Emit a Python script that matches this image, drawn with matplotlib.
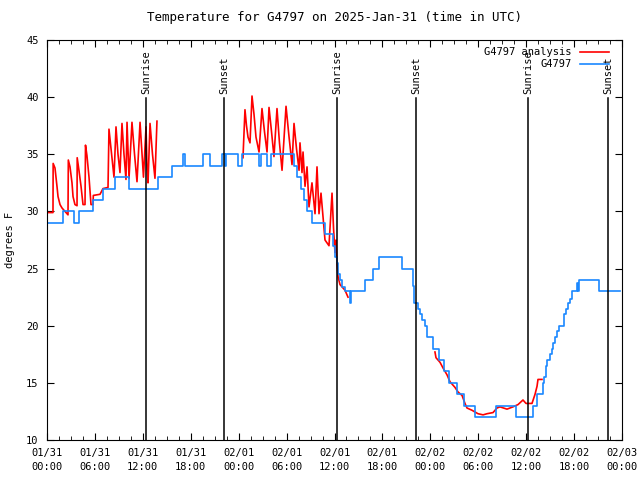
import matplotlib

matplotlib.use("Agg")
import matplotlib.pyplot as plt
import matplotlib.dates as mdates
from matplotlib.ticker import MultipleLocator
import numpy as np
import pandas as pd

plt.rcParams["font.family"] = "DejaVu Sans Mono"
plt.rcParams["font.size"] = 7.5

base = pd.Timestamp("2025-01-31 00:00")

# observed station temps (hours after 01/31 00:00 UTC, degF), step data
obs_hours = [0, 2.0, 3.4, 4.0, 5.75, 7.0, 8.5, 10.25, 13.9, 15.65, 17.0, 17.3,
             19.55, 20.4, 21.9, 22.3, 22.45, 23.9, 24.4, 26.55, 26.8, 27.55, 28.05,
             30.9, 31.3, 31.8, 32.2, 32.55, 33.2, 34.8, 35.8, 36.05, 36.3, 36.45,
             36.7, 36.95, 37.3, 37.95, 38.05, 39.8, 40.8, 41.55, 44.45, 45.85, 46.0,
             46.45, 46.7, 46.95, 47.35, 47.6, 48.35, 49.1, 49.7, 50.35, 51.35, 52.2,
             53.6, 56.2, 58.7, 60.85, 61.35, 62.1, 62.2, 62.5, 62.6, 63.0, 63.25,
             63.35, 63.6, 63.85, 64.1, 64.75, 65.0, 65.25, 65.5, 65.75, 66.35, 66.5,
             66.6, 68.9, 69.15, 71.75]
obs_temps = [29, 30, 29, 30, 31, 32, 33, 32, 33, 34, 35, 34,
             35, 34, 35, 34, 35, 34, 35, 34, 35, 34, 35,
             34, 33, 32, 31, 30, 29, 28, 27, 26, 25.5, 24.5,
             24, 23.4, 23, 22, 23, 24, 25, 26, 25, 23.5, 22,
             21.5, 21, 20.5, 20, 19, 18, 17, 16, 15, 14, 13,
             12, 13, 12, 13, 14, 15, 15.5, 16.5, 17, 17.5, 18,
             18.5, 19, 19.5, 20, 21, 21.5, 22, 22.3, 23, 23.7, 23,
             24, 24, 23, 23]

# analysis temps, NaN marks gaps
ana_hours = [0.0, 0.75, 0.77, 1.0, 1.13, 1.25, 1.38, 1.63, 1.88, 2.25, 2.63, 2.67,
             2.88, 3.13, 3.26, 3.5, 3.76, 3.78, 4.0, 4.26, 4.51, 4.76, 4.82, 5.0,
             5.26, 5.51, 5.76, 5.8, 6.64, 7.01, 7.64, 7.76, 8.01, 8.39, 8.64, 8.89,
             9.14, 9.39, 9.64, 9.89, 10.02, 10.27, 10.64, 10.96, 11.27, 11.65, 11.9,
             12.08, 12.4, 12.52, 12.65, 12.9, 13.21, 13.52, 13.77, 13.8,
             24.54, 24.67, 24.79, 24.98, 25.17, 25.42, 25.67, 25.92, 26.17, 26.55,
             26.92, 27.23, 27.55, 27.8, 28.11, 28.42, 28.8, 29.11, 29.43, 29.93,
             30.31, 30.68, 30.93, 31.24, 31.56, 31.68, 31.93, 32.06, 32.31, 32.56,
             32.81, 33.18, 33.56, 33.81, 34.06, 34.31, 34.81, 35.31, 35.69, 35.88,
             36.06, 36.19, 36.31, 36.44, 36.69, 37.07, 37.32, 37.57, 37.69, 37.7,
             48.58, 48.71, 49.21, 49.59, 50.09, 50.46, 51.09, 51.47, 51.97, 52.34,
             52.59, 53.22, 53.97, 54.6, 55.1, 55.85, 56.35, 56.72, 57.6, 58.35,
             58.98, 59.6, 59.98, 60.73, 61.11, 61.36, 61.48, 61.98]
ana_temps = [29.9, 29.9, 34.2, 33.8, 33.0, 32.2, 31.3, 30.6, 30.3, 30.0, 29.7, 34.5,
             33.9, 32.5, 31.3, 30.6, 30.5, 34.7, 33.6, 32.2, 30.6, 30.6, 35.8, 34.9,
             33.0, 30.6, 30.6, 31.4, 31.5, 32.0, 32.1, 37.2, 35.5, 33.0, 37.4, 35.0,
             33.4, 37.7, 35.0, 32.8, 37.8, 32.9, 37.8, 35.0, 32.6, 37.8, 35.0,
             33.0, 37.4, 34.0, 32.5, 37.7, 35.0, 32.9, 37.9, np.nan,
             34.7, 36.9, 38.9, 37.5, 36.5, 36.0, 40.1, 38.5, 36.5, 35.2,
             39.0, 37.0, 35.2, 39.1, 37.0, 34.8, 39.0, 36.0, 33.6, 39.2,
             36.5, 34.1, 37.7, 35.5, 33.6, 36.0, 33.4, 35.2, 32.2, 33.9,
             30.4, 32.5, 29.8, 33.9, 29.8, 31.6, 27.5, 27.0, 31.6, 28.5,
             26.4, 27.5, 25.5, 24.3, 23.6, 23.3, 23.1, 22.7, 22.5, np.nan,
             17.7, 17.2, 16.8, 16.3, 15.7, 15.1, 14.6, 14.2, 13.9, 13.2,
             12.8, 12.6, 12.3, 12.2, 12.3, 12.4, 12.8, 12.9, 12.7, 12.9,
             13.1, 13.5, 13.2, 13.2, 14.0, 14.7, 15.3, 15.3]

sunrise_hours = [12.40, 36.31, 60.23]
sunset_hours = [22.16, 46.21, 70.25]


def to_time(hours):
    return base + pd.to_timedelta(np.asarray(hours, dtype=float), unit="h")


fig = plt.figure(figsize=(6.4, 4.8), dpi=100)
ax = fig.add_axes([47 / 640, 40 / 480, 575 / 640, 400 / 480])

ax.plot(to_time(ana_hours), ana_temps, color="#ff0000", linewidth=1.2,
        label="G4797 analysis")
ax.plot(to_time(obs_hours), obs_temps, color="#1a88ff", linewidth=1.2,
        drawstyle="steps-post", label="G4797")

for label, hours in (("Sunrise", sunrise_hours), ("Sunset", sunset_hours)):
    for t in to_time(hours):
        ax.plot([t, t], [10, 39.9], color="black", linewidth=1.1)
        ax.text(t, 40.3, label, rotation=90, ha="center", va="bottom")

ax.set_xlim(base, base + pd.Timedelta(hours=72))
ax.set_ylim(10, 45)
ax.xaxis.set_major_locator(MultipleLocator(0.25))
ax.xaxis.set_minor_locator(MultipleLocator(0.0625))
ax.xaxis.set_major_formatter(mdates.DateFormatter("%m/%d\n%H:%M"))
ax.yaxis.set_major_locator(MultipleLocator(5))
ax.tick_params(which="both", direction="in", top=True, right=True)
ax.tick_params(which="major", length=5, pad=6)
ax.tick_params(which="minor", length=3)
for lbl in ax.get_xticklabels():
    lbl.set_linespacing(1.5)

ax.set_ylabel("degrees F", labelpad=8)
ax.set_title("Temperature for G4797 on 2025-Jan-31 (time in UTC)", pad=14)
ax.legend(loc="upper right", frameon=False, markerfirst=False,
          handlelength=2.8, borderaxespad=0.3, labelspacing=0.2,
          bbox_to_anchor=(0.99, 1.0))

fig.savefig("out.png", dpi=100)
